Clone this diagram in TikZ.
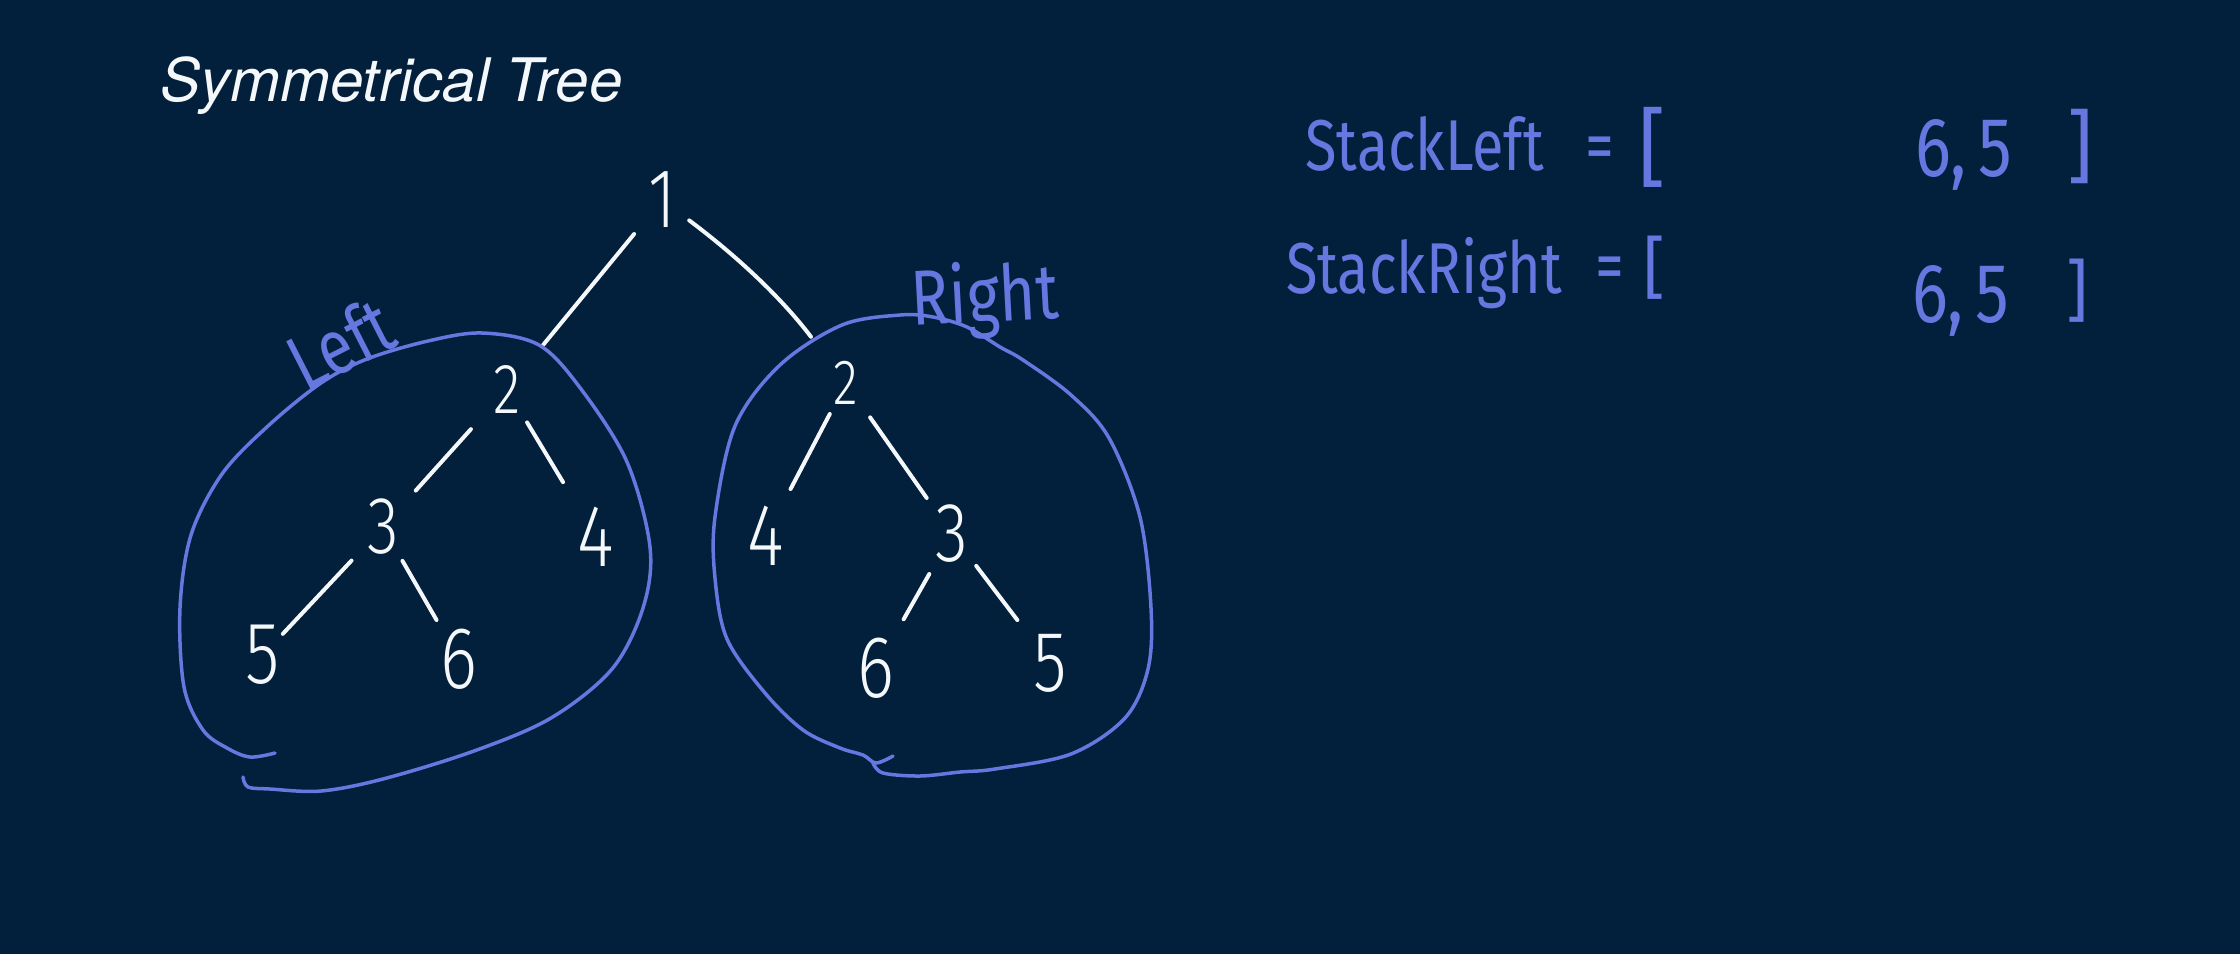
\documentclass[tikz,border=0pt]{standalone}
\usepackage{fontspec}
\setmainfont{TeX Gyre Heros}
\newfontfamily\hand{Fira Sans Light}[FakeStretch=0.8]
\newfontfamily\handb{Fira Sans}[FakeStretch=0.8]
\newfontfamily\handn{Fira Sans}
\usetikzlibrary{calc}
\definecolor{bg}{RGB}{2,31,59}
\definecolor{ink}{RGB}{104,118,224}
\definecolor{chalk}{RGB}{245,248,250}
\newcommand\fsz[1]{\fontsize{#1}{#1}\selectfont}
\begin{document}
\begin{tikzpicture}[x=1pt,y=-1pt,
  digit/.style={text=chalk, inner sep=0pt, font=\hand\fsz{84}},
  edge/.style={draw=chalk, line width=4pt, line cap=round},
  blob/.style={draw=ink, line width=3.5pt, line cap=round, line join=round},
  bluetext/.style={text=ink, inner sep=0pt, font=\handb\fsz{72}},
  bluenum/.style={text=ink, inner sep=0pt, font=\handb\fsz{84}},
  bracket/.style={text=ink, inner sep=0pt},
]
\fill[bg] (0,0) rectangle (2240,954);
\useasboundingbox (0,0) rectangle (2240,954);

% title
\node[anchor=base west, inner sep=0pt, text=chalk, font=\itshape\fsz{60}] (title) at (160,101) {Symmetrical Tree};

% tree nodes
\node[digit] (n1) at (662,200) {1};
\node[digit, font=\hand\fsz{71}] (l2) at (507,389) {2};
\node[digit, font=\hand\fsz{81}] (l3) at (383,527) {3};
\node[digit, font=\hand\fsz{88}] (l4) at (596,537) {4};
\node[digit, font=\hand\fsz{88}] (l5) at (263,655) {5};
\node[digit, font=\hand\fsz{88}] (l6) at (459,659) {6};
\node[digit, font=\hand\fsz{64}] (r2) at (846,383) {2};
\node[digit, font=\hand\fsz{88}] (r4) at (766,536) {4};
\node[digit] (r3) at (952,534) {3};
\node[digit, font=\hand\fsz{88}] (r6) at (876,668) {6};
\node[digit, font=\hand\fsz{86}] (r5) at (1050,663) {5};

% edges
\draw[edge, shorten <=44pt, shorten >=57pt] (n1.center) -- (l2.center);
\draw[edge, shorten <=34pt, shorten >=58pt] (n1.center) to[bend left=8] (r2.center);
\draw[edge, shorten <=54pt, shorten >=49pt] (l2.center) -- (l3.center);
\draw[edge, shorten <=39pt, shorten >=64pt] (l2.center) -- (l4.center);
\draw[edge, shorten <=46pt, shorten >=29pt] (l3.center) -- (l5.center);
\draw[edge, shorten <=39pt, shorten >=45pt] (l3.center) -- (l6.center);
\draw[edge, shorten <=35pt, shorten >=53pt] (r2.center) -- (r4.center);
\draw[edge, shorten <=42pt, shorten >=44pt] (r2.center) -- (r3.center);
\draw[edge, shorten <=46pt, shorten >=56pt] (r3.center) -- (r6.center);
\draw[edge, shorten <=40pt, shorten >=54pt] (r3.center) -- (r5.center);

% blobs
\draw[blob] plot[smooth, tension=0.55] coordinates {(243,777) (248,787) (270,789) (321,791) (383,779) (474,751) (551,718) (612,669) (643,608) (650,547) (627,462) (581,389) (539,345) (482,333) (428,341) (367,359) (321,383) (268,426) (222,474) (191,535) (180,608) (184,687) (203,730) (227,748) (250,757) (275,753)};
\draw[blob] plot[smooth, tension=0.55] coordinates {(873,763) (883,773) (920,776) (960,772) (995,769) (1071,754) (1125,718) (1148,669) (1151,608) (1140,517) (1109,438) (1071,395) (1023,360) (1000,347) (967,327) (933,317) (900,315) (842,325) (780,365) (735,426) (715,517) (715,578) (727,639) (765,693) (803,730) (840,748) (863,755) (876,763) (893,756)};

% labels
\node[bluetext, font=\handb\fsz{78}, rotate=27] (lleft) at (340,343) {Left};
\node[bluetext, font=\handb\fsz{78}, rotate=3] (lright) at (985,300) {Right};

% stacks
\node[bluetext, anchor=base west] (sl) at (1305,170) {StackLeft};
\node[bluetext, anchor=base west] (sleq) at (1585,170) {=};
\node[bracket, font=\handn\fsz{86}] (slo) at (1652,147) {[};
\node[bluenum, anchor=base west] (slv) at (1915,176) {6,\hspace{12pt}5};
\node[bracket, font=\handn\fsz{80}] (slc) at (2080,146) {]};
\node[bluetext, anchor=base west] (sr) at (1286,293) {StackRight};
\node[bluetext, anchor=base west] (sreq) at (1595,290) {=};
\node[bracket, font=\handn\fsz{68}] (sro) at (1654,268) {[};
\node[bluenum, anchor=base west] (srv) at (1912,322) {6,\hspace{12pt}5};
\node[bracket, font=\handn\fsz{68}] (src) at (2077,291) {]};
\end{tikzpicture}
\end{document}
